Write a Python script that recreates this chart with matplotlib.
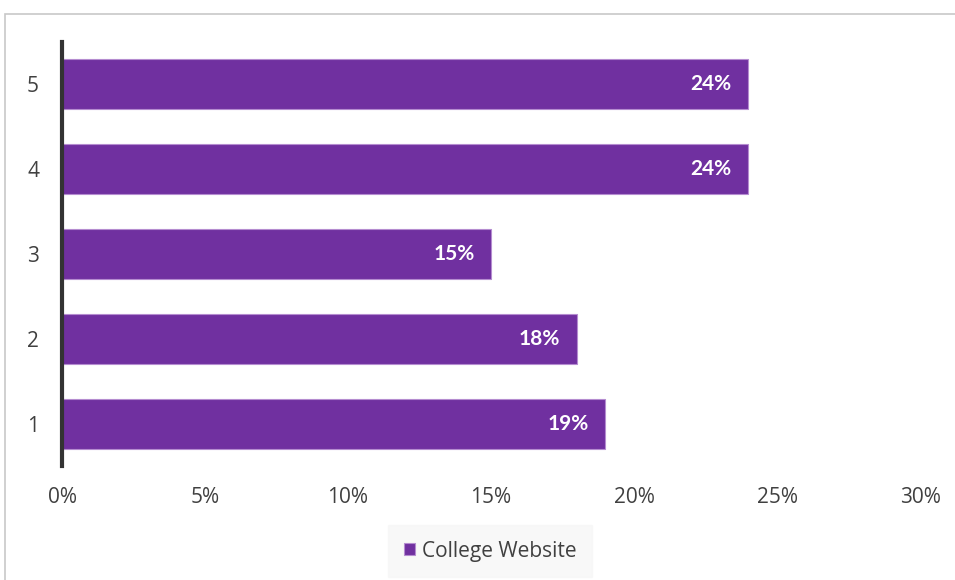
import matplotlib
matplotlib.use("Agg")
import matplotlib.pyplot as plt
from matplotlib.patches import Rectangle, Patch
from matplotlib.ticker import FuncFormatter

categories = ["1", "2", "3", "4", "5"]
values = [19, 18, 15, 24, 24]
series_name = "College Website"
x_ticks = [0, 5, 10, 15, 20, 25, 30]

purple = "#7030A0"

plt.rcParams["font.family"] = ["Open Sans", "DejaVu Sans"]

fig = plt.figure(figsize=(9.55, 5.8), dpi=100)
ax = fig.add_axes([62 / 955, 1 - 466 / 580, (920 - 62) / 955, (466 - 42) / 580])

# outer chart-area border
fig.patches.append(Rectangle((5 / 955, -0.01), 1.0, 1 - 14 / 580 + 0.01,
                             transform=fig.transFigure, fill=False,
                             edgecolor="#C8C8C8", linewidth=1.2))

y = list(range(1, len(categories) + 1))
ax.barh(y, values, height=0.59, color=purple, edgecolor="#B58CD0", linewidth=0.8)

for yi, v in zip(y, values):
    ax.text(v - 0.58, yi, f"{v}%", ha="right", va="center", color="white",
            fontsize=15, fontweight="bold", family=["Lato", "DejaVu Sans"])

ax.set_xlim(0, 30)
ax.set_ylim(0.5, 5.5)
ax.set_xticks(x_ticks)
ax.xaxis.set_major_formatter(FuncFormatter(lambda v, p: f"{v:.0f}%"))
ax.set_yticks(y)
ax.set_yticklabels(categories)
ax.tick_params(axis="both", length=0, labelsize=15, colors="#404040")
ax.tick_params(axis="x", pad=15)
ax.tick_params(axis="y", pad=16.5)

for s in ["top", "right", "bottom"]:
    ax.spines[s].set_visible(False)
ax.spines["left"].set_color("#333333")
ax.spines["left"].set_linewidth(3)

handle = Patch(facecolor=purple, edgecolor="#B58CD0", linewidth=0.8)
leg = fig.legend([handle], [series_name], loc="center",
                 bbox_to_anchor=(490 / 955, 1 - 551 / 580), frameon=True,
                 fontsize=15, handlelength=0.55, handleheight=0.55,
                 handletextpad=0.3, borderpad=0.75, fancybox=False,
                 labelcolor="#404040")
leg.get_frame().set_facecolor("#F7F7F7")
leg.get_frame().set_edgecolor("#F7F7F7")

fig.savefig("out.png", dpi=100)
